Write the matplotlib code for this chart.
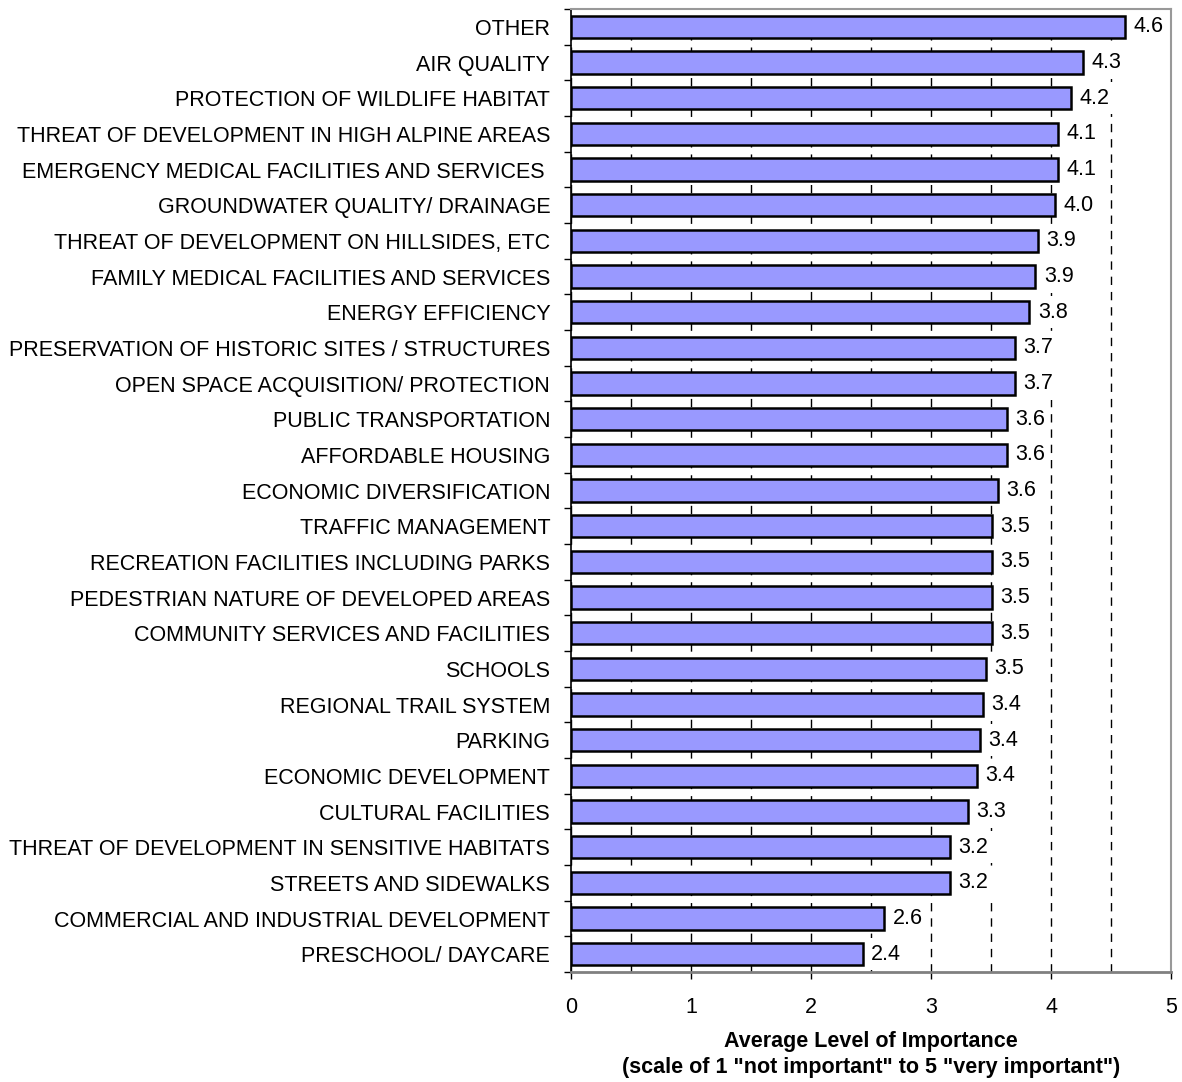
import numpy as np
import matplotlib
matplotlib.use("Agg")
import matplotlib.pyplot as plt

plt.rcParams['font.family'] = ['Liberation Sans', 'DejaVu Sans']

# categories, top to bottom
categories = [
    "OTHER",
    "AIR QUALITY",
    "PROTECTION OF WILDLIFE HABITAT",
    "THREAT OF DEVELOPMENT IN HIGH ALPINE AREAS",
    "EMERGENCY MEDICAL FACILITIES AND SERVICES ",
    "GROUNDWATER QUALITY/ DRAINAGE",
    "THREAT OF DEVELOPMENT ON HILLSIDES, ETC",
    "FAMILY MEDICAL FACILITIES AND SERVICES",
    "ENERGY EFFICIENCY",
    "PRESERVATION OF HISTORIC SITES / STRUCTURES",
    "OPEN SPACE ACQUISITION/ PROTECTION",
    "PUBLIC TRANSPORTATION",
    "AFFORDABLE HOUSING",
    "ECONOMIC DIVERSIFICATION",
    "TRAFFIC MANAGEMENT",
    "RECREATION FACILITIES INCLUDING PARKS",
    "PEDESTRIAN NATURE OF DEVELOPED AREAS",
    "COMMUNITY SERVICES AND FACILITIES",
    "SCHOOLS",
    "REGIONAL TRAIL SYSTEM",
    "PARKING",
    "ECONOMIC DEVELOPMENT",
    "CULTURAL FACILITIES",
    "THREAT OF DEVELOPMENT IN SENSITIVE HABITATS",
    "STREETS AND SIDEWALKS",
    "COMMERCIAL AND INDUSTRIAL DEVELOPMENT",
    "PRESCHOOL/ DAYCARE",
]
values = [4.62, 4.27, 4.17, 4.06, 4.06, 4.03, 3.89, 3.87, 3.82, 3.70, 3.70,
          3.63, 3.63, 3.56, 3.51, 3.51, 3.51, 3.51, 3.46, 3.43, 3.41, 3.38,
          3.31, 3.16, 3.16, 2.61, 2.43]
xticks = [0, 1, 2, 3, 4, 5]

FS = 15.5

fig = plt.figure(figsize=(11.82, 10.82), dpi=100)
ax = fig.add_axes([571 / 1182, 1 - 972 / 1082, 600 / 1182, 963 / 1082])

y = np.arange(len(categories))
ax.barh(y, values, height=0.62, color='#9999FF', edgecolor='black',
        linewidth=1.8, zorder=2)

# dashed grid every 0.5
ax.set_xticks(xticks)
ax.set_xticks(np.arange(0.5, 5.0, 1.0), minor=True)
ax.grid(axis='x', which='both', color='black', linestyle=(0, (6, 5)),
        linewidth=1.0, zorder=0)
ax.set_axisbelow(True)

for yi, v in zip(y, values):
    ax.text(v + 0.07, yi, "%.1f" % v, va='center', ha='left', fontsize=FS,
            bbox=dict(facecolor='white', edgecolor='none', pad=4), zorder=3)

ax.set_xlim(0, 5)
ax.set_ylim(len(categories) - 0.5, -0.5)
ax.set_xticklabels([str(t) for t in xticks], fontsize=FS)

# y ticks sit between categories
ax.set_yticks(np.arange(-0.5, len(categories), 1.0))
ax.set_yticklabels([])
ax.set_yticks(y, minor=True)
ax.set_yticklabels(categories, minor=True, fontsize=FS)
ax.tick_params(axis='y', which='minor', length=0, pad=15)
ax.tick_params(axis='y', which='major', length=5, width=1, direction='out')
ax.tick_params(axis='x', which='major', length=5, width=1, direction='out', pad=13)
ax.tick_params(axis='x', which='minor', length=0)

ax.spines['left'].set_linewidth(1.2)
ax.spines['bottom'].set_linewidth(2)
ax.spines['bottom'].set_color('#808080')
ax.spines['top'].set_color('#999999')
ax.spines['right'].set_color('#999999')
ax.spines['top'].set_linewidth(1.5)
ax.spines['right'].set_linewidth(1.5)

# axis title, two lines
fig.text(871 / 1182, 1 - 1042 / 1082, 'Average Level of Importance',
         ha='center', va='center', fontsize=FS, fontweight='bold')
fig.text(871 / 1182, 1 - 1067 / 1082,
         '(scale of 1 "not important" to 5 "very important")',
         ha='center', va='center', fontsize=FS, fontweight='bold')

fig.savefig('out.png', dpi=100)
